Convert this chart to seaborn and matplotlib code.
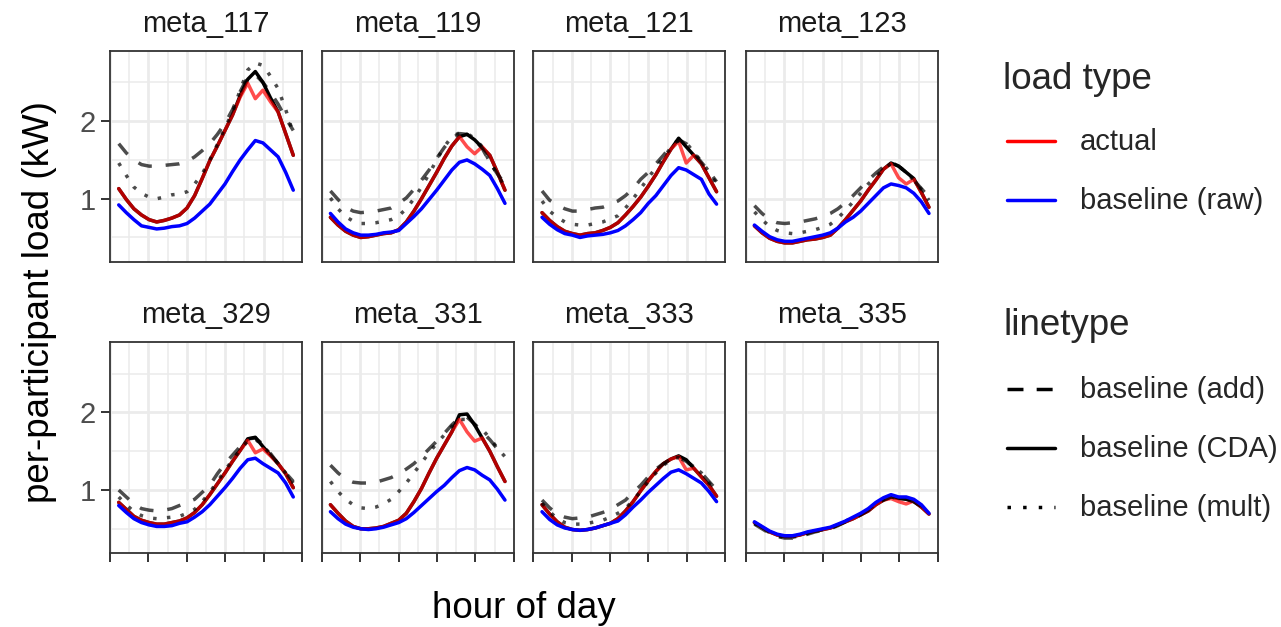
import matplotlib
matplotlib.use("Agg")
import numpy as np
import pandas as pd
import matplotlib.pyplot as plt
from matplotlib.lines import Line2D
from matplotlib.ticker import FixedLocator
import seaborn as sns

# ---- data ----
HOURS = list(range(24))
PANELS = ["meta_117", "meta_119", "meta_121", "meta_123",
          "meta_329", "meta_331", "meta_333", "meta_335"]

ACTUAL = {
    "meta_117": [1.13, 0.99, 0.87, 0.79, 0.73, 0.70, 0.72, 0.75, 0.79, 0.88, 1.04, 1.26,
                 1.49, 1.68, 1.88, 2.08, 2.31, 2.49, 2.29, 2.40, 2.25, 2.12, 1.84, 1.56],
    "meta_119": [0.76, 0.66, 0.58, 0.53, 0.50, 0.51, 0.53, 0.55, 0.56, 0.60, 0.70, 0.84,
                 1.00, 1.17, 1.34, 1.52, 1.68, 1.80, 1.67, 1.58, 1.67, 1.56, 1.34, 1.11],
    "meta_121": [0.82, 0.72, 0.64, 0.58, 0.55, 0.53, 0.55, 0.56, 0.59, 0.63, 0.69, 0.79,
                 0.90, 1.02, 1.16, 1.31, 1.48, 1.64, 1.74, 1.46, 1.56, 1.45, 1.27, 1.09],
    "meta_123": [0.65, 0.56, 0.49, 0.45, 0.43, 0.43, 0.45, 0.47, 0.48, 0.50, 0.53, 0.62,
                 0.73, 0.85, 0.97, 1.11, 1.24, 1.38, 1.45, 1.27, 1.19, 1.25, 1.08, 0.89],
    "meta_329": [0.84, 0.75, 0.66, 0.61, 0.58, 0.56, 0.56, 0.58, 0.60, 0.64, 0.71, 0.81,
                 0.94, 1.08, 1.22, 1.37, 1.51, 1.64, 1.48, 1.53, 1.44, 1.34, 1.21, 1.03],
    "meta_331": [0.81, 0.70, 0.60, 0.53, 0.50, 0.50, 0.51, 0.53, 0.57, 0.61, 0.70, 0.85,
                 1.02, 1.22, 1.41, 1.58, 1.75, 1.91, 1.75, 1.63, 1.67, 1.50, 1.30, 1.11],
    "meta_333": [0.81, 0.69, 0.59, 0.52, 0.49, 0.48, 0.49, 0.51, 0.54, 0.57, 0.63, 0.73,
                 0.85, 0.99, 1.12, 1.24, 1.34, 1.40, 1.43, 1.26, 1.28, 1.17, 1.06, 0.92],
    "meta_335": [0.58, 0.52, 0.46, 0.42, 0.40, 0.40, 0.42, 0.45, 0.47, 0.49, 0.51, 0.55,
                 0.59, 0.63, 0.68, 0.73, 0.81, 0.87, 0.89, 0.85, 0.82, 0.86, 0.78, 0.69],
}

CDA = {
    "meta_117": [1.13, 0.99, 0.87, 0.79, 0.73, 0.70, 0.72, 0.75, 0.79, 0.88, 1.04, 1.26,
                 1.49, 1.68, 1.88, 2.08, 2.33, 2.54, 2.64, 2.50, 2.30, 2.12, 1.84, 1.56],
    "meta_119": [0.76, 0.66, 0.58, 0.53, 0.50, 0.51, 0.53, 0.55, 0.56, 0.60, 0.70, 0.84,
                 1.00, 1.17, 1.34, 1.52, 1.68, 1.80, 1.83, 1.76, 1.66, 1.56, 1.34, 1.11],
    "meta_121": [0.82, 0.72, 0.64, 0.58, 0.55, 0.53, 0.55, 0.56, 0.59, 0.63, 0.69, 0.79,
                 0.90, 1.02, 1.16, 1.31, 1.48, 1.64, 1.78, 1.67, 1.56, 1.45, 1.27, 1.09],
    "meta_123": [0.65, 0.56, 0.49, 0.45, 0.43, 0.43, 0.45, 0.47, 0.48, 0.50, 0.53, 0.62,
                 0.73, 0.85, 0.97, 1.11, 1.24, 1.38, 1.46, 1.42, 1.34, 1.26, 1.08, 0.89],
    "meta_329": [0.84, 0.75, 0.66, 0.61, 0.58, 0.56, 0.56, 0.58, 0.60, 0.64, 0.71, 0.81,
                 0.94, 1.08, 1.22, 1.37, 1.51, 1.66, 1.68, 1.56, 1.45, 1.34, 1.21, 1.03],
    "meta_331": [0.81, 0.70, 0.60, 0.53, 0.50, 0.50, 0.51, 0.53, 0.57, 0.61, 0.70, 0.85,
                 1.02, 1.22, 1.41, 1.58, 1.75, 1.97, 1.98, 1.84, 1.67, 1.50, 1.30, 1.11],
    "meta_333": [0.81, 0.69, 0.59, 0.52, 0.49, 0.48, 0.49, 0.51, 0.54, 0.57, 0.63, 0.73,
                 0.85, 0.99, 1.12, 1.24, 1.34, 1.40, 1.44, 1.39, 1.28, 1.17, 1.06, 0.92],
    "meta_335": [0.58, 0.52, 0.46, 0.42, 0.40, 0.40, 0.42, 0.45, 0.47, 0.49, 0.51, 0.55,
                 0.59, 0.63, 0.68, 0.73, 0.81, 0.87, 0.91, 0.89, 0.88, 0.85, 0.78, 0.69],
}

RAW = {
    "meta_117": [0.92, 0.82, 0.73, 0.65, 0.63, 0.61, 0.62, 0.64, 0.65, 0.68, 0.75, 0.84,
                 0.93, 1.06, 1.19, 1.35, 1.50, 1.63, 1.75, 1.72, 1.63, 1.54, 1.34, 1.11],
    "meta_119": [0.81, 0.70, 0.61, 0.56, 0.53, 0.53, 0.54, 0.56, 0.57, 0.59, 0.68, 0.77,
                 0.87, 0.99, 1.11, 1.24, 1.37, 1.47, 1.50, 1.45, 1.38, 1.30, 1.13, 0.94],
    "meta_121": [0.76, 0.67, 0.60, 0.55, 0.53, 0.50, 0.52, 0.53, 0.54, 0.56, 0.59, 0.65,
                 0.73, 0.82, 0.94, 1.04, 1.17, 1.30, 1.40, 1.37, 1.31, 1.25, 1.06, 0.93],
    "meta_123": [0.66, 0.58, 0.51, 0.47, 0.45, 0.45, 0.47, 0.49, 0.51, 0.53, 0.56, 0.62,
                 0.70, 0.76, 0.84, 0.94, 1.04, 1.14, 1.19, 1.17, 1.14, 1.07, 0.96, 0.81],
    "meta_329": [0.80, 0.71, 0.63, 0.58, 0.55, 0.53, 0.53, 0.54, 0.57, 0.59, 0.65, 0.72,
                 0.81, 0.92, 1.03, 1.15, 1.28, 1.39, 1.41, 1.34, 1.28, 1.22, 1.09, 0.91],
    "meta_331": [0.72, 0.63, 0.56, 0.52, 0.50, 0.49, 0.50, 0.52, 0.55, 0.58, 0.63, 0.71,
                 0.80, 0.89, 0.98, 1.06, 1.16, 1.25, 1.29, 1.26, 1.19, 1.13, 1.01, 0.87],
    "meta_333": [0.72, 0.62, 0.55, 0.51, 0.49, 0.48, 0.49, 0.51, 0.54, 0.57, 0.60, 0.68,
                 0.78, 0.87, 0.97, 1.06, 1.15, 1.23, 1.26, 1.21, 1.15, 1.09, 0.98, 0.85],
    "meta_335": [0.59, 0.53, 0.47, 0.43, 0.41, 0.41, 0.43, 0.46, 0.48, 0.50, 0.52, 0.56,
                 0.60, 0.65, 0.70, 0.76, 0.84, 0.90, 0.94, 0.91, 0.91, 0.88, 0.81, 0.70],
}

ADD = {
    "meta_117": [1.71, 1.59, 1.50, 1.44, 1.42, 1.42, 1.43, 1.44, 1.45, 1.48, 1.54, 1.62,
                 1.71, 1.83, 1.97, 2.15, 2.38, 2.57, 2.60, 2.50, 2.37, 2.22, 2.04, 1.88],
    "meta_119": [1.10, 0.99, 0.89, 0.84, 0.82, 0.83, 0.84, 0.86, 0.88, 0.94, 1.01, 1.12,
                 1.24, 1.37, 1.52, 1.66, 1.78, 1.84, 1.83, 1.76, 1.65, 1.47, 1.32, 1.19],
    "meta_121": [1.10, 0.98, 0.92, 0.87, 0.84, 0.84, 0.86, 0.88, 0.89, 0.93, 0.97, 1.04,
                 1.13, 1.25, 1.34, 1.45, 1.56, 1.68, 1.76, 1.71, 1.59, 1.47, 1.35, 1.22],
    "meta_123": [0.91, 0.81, 0.73, 0.69, 0.68, 0.69, 0.70, 0.72, 0.74, 0.77, 0.81, 0.87,
                 0.95, 1.04, 1.14, 1.24, 1.33, 1.41, 1.47, 1.42, 1.34, 1.24, 1.13, 1.02],
    "meta_329": [1.00, 0.91, 0.82, 0.76, 0.74, 0.73, 0.74, 0.76, 0.80, 0.84, 0.88, 0.97,
                 1.06, 1.21, 1.34, 1.45, 1.56, 1.66, 1.67, 1.59, 1.47, 1.34, 1.22, 1.11],
    "meta_331": [1.32, 1.22, 1.14, 1.10, 1.09, 1.09, 1.10, 1.13, 1.16, 1.21, 1.27, 1.34,
                 1.43, 1.53, 1.63, 1.73, 1.84, 1.93, 1.94, 1.85, 1.75, 1.65, 1.53, 1.43],
    "meta_333": [0.87, 0.77, 0.69, 0.65, 0.63, 0.64, 0.65, 0.68, 0.71, 0.75, 0.81, 0.87,
                 0.97, 1.06, 1.17, 1.27, 1.34, 1.40, 1.42, 1.37, 1.30, 1.22, 1.11, 1.00],
    "meta_335": [0.56, 0.50, 0.44, 0.40, 0.38, 0.38, 0.40, 0.43, 0.46, 0.48, 0.50, 0.54,
                 0.59, 0.63, 0.68, 0.74, 0.81, 0.87, 0.91, 0.89, 0.88, 0.85, 0.79, 0.69],
}

MULT = {
    "meta_117": [1.46, 1.30, 1.15, 1.07, 1.02, 1.00, 1.02, 1.05, 1.06, 1.09, 1.19, 1.32,
                 1.50, 1.70, 1.91, 2.12, 2.40, 2.66, 2.75, 2.72, 2.58, 2.42, 2.15, 1.84],
    "meta_119": [1.01, 0.87, 0.77, 0.71, 0.68, 0.68, 0.69, 0.71, 0.73, 0.78, 0.87, 1.00,
                 1.15, 1.32, 1.50, 1.67, 1.80, 1.85, 1.84, 1.78, 1.67, 1.47, 1.32, 1.15],
    "meta_121": [0.97, 0.84, 0.76, 0.70, 0.67, 0.66, 0.66, 0.68, 0.70, 0.74, 0.78, 0.88,
                 1.00, 1.13, 1.27, 1.40, 1.53, 1.66, 1.75, 1.72, 1.60, 1.48, 1.35, 1.19],
    "meta_123": [0.83, 0.73, 0.64, 0.59, 0.56, 0.55, 0.56, 0.58, 0.60, 0.63, 0.67, 0.75,
                 0.85, 0.96, 1.07, 1.19, 1.28, 1.39, 1.45, 1.42, 1.34, 1.24, 1.12, 0.98],
    "meta_329": [0.91, 0.81, 0.72, 0.67, 0.64, 0.63, 0.64, 0.65, 0.66, 0.70, 0.75, 0.85,
                 0.97, 1.11, 1.25, 1.39, 1.52, 1.63, 1.66, 1.56, 1.47, 1.34, 1.22, 1.09],
    "meta_331": [1.11, 0.98, 0.88, 0.81, 0.77, 0.76, 0.78, 0.82, 0.88, 0.98, 1.09, 1.22,
                 1.35, 1.48, 1.60, 1.71, 1.82, 1.91, 1.91, 1.84, 1.78, 1.67, 1.54, 1.43],
    "meta_333": [0.83, 0.72, 0.63, 0.58, 0.56, 0.56, 0.57, 0.59, 0.61, 0.65, 0.70, 0.76,
                 0.87, 0.98, 1.11, 1.22, 1.32, 1.39, 1.42, 1.37, 1.30, 1.22, 1.09, 0.98],
    "meta_335": [0.57, 0.51, 0.45, 0.41, 0.39, 0.39, 0.41, 0.44, 0.47, 0.49, 0.51, 0.55,
                 0.60, 0.64, 0.69, 0.75, 0.82, 0.88, 0.92, 0.90, 0.89, 0.86, 0.80, 0.70],
}

# draw order: CDA first, then actual on top of it, then add/mult, raw last
SERIES = [
    ("baseline (CDA)", CDA, "black", 1.0, "-"),
    ("actual", ACTUAL, "red", 0.7, "-"),
    ("baseline (add)", ADD, "black", 0.7, (0, (4, 4))),
    ("baseline (mult)", MULT, "black", 0.7, (0, (1, 3))),
    ("baseline (raw)", RAW, "blue", 1.0, "-"),
]

rows = []
for name, table, *_ in SERIES:
    for panel in PANELS:
        for h, v in zip(HOURS, table[panel]):
            rows.append({"panel": panel, "series": name, "hour": h, "load": v})
df = pd.DataFrame(rows)

sns.set_theme(style="white")
plt.rcParams["font.family"] = ["Liberation Sans", "DejaVu Sans"]

W, H = 1281, 627
fig = plt.figure(figsize=(W / 100, H / 100), dpi=100)


def fx(px):
    return px / W


def fy(py):
    return 1 - py / H


LW = 2.5
XMIN, XMAX = -1.15, 24.15
YMIN, YMAX = 0.19, 2.905
xmaj = np.linspace(XMIN, XMAX, 6)
xmin_ = (xmaj[:-1] + xmaj[1:]) / 2

col_left = [110, 321.7, 533.3, 745.7]
row_top = [51, 342.3]
pw, ph = 192, 210.5

for i, panel in enumerate(PANELS):
    r, c = divmod(i, 4)
    ax = fig.add_axes([fx(col_left[c]), fy(row_top[r] + ph), pw / W, ph / H])
    sub = df[df["panel"] == panel]
    for name, _, color, alpha, ls in SERIES:
        d = sub[sub["series"] == name]
        sns.lineplot(data=d, x="hour", y="load", ax=ax, color=color, alpha=alpha,
                     linestyle=ls, lw=LW, errorbar=None, legend=False,
                     solid_joinstyle="round", dash_capstyle="butt")
    ax.set_xlim(XMIN, XMAX)
    ax.set_ylim(YMIN, YMAX)
    ax.xaxis.set_major_locator(FixedLocator(xmaj))
    ax.xaxis.set_minor_locator(FixedLocator(xmin_))
    ax.yaxis.set_major_locator(FixedLocator([1, 2]))
    ax.yaxis.set_minor_locator(FixedLocator([0.5, 1.5, 2.5]))
    ax.set_axisbelow(True)
    ax.grid(which="major", color="#ebebeb", lw=2.0)
    ax.grid(which="minor", color="#ebebeb", lw=1.1)
    for s in ax.spines.values():
        s.set_color("#333333")
        s.set_linewidth(1.3)
    ax.set_xlabel("")
    ax.set_ylabel("")
    ax.tick_params(which="minor", length=0)
    ax.tick_params(which="major", direction="out", length=6.5, width=1.4,
                   color="#333333", labelsize=21, labelcolor="#4d4d4d", pad=4,
                   bottom=(r == 1), left=(c == 0),
                   labelbottom=False, labelleft=(c == 0))
    if c == 0:
        ax.set_yticklabels(["1", "2"])
    ax.text(0.5, 1 + 19 / ph, panel, transform=ax.transAxes, ha="center",
            va="baseline", fontsize=21, color="#1a1a1a")

fig.text(fx(40), fy(302), "per-participant load (kW)", rotation=90,
         ha="center", va="center", fontsize=26.5, color="black")
fig.text(fx(524), fy(618), "hour of day", ha="center", va="baseline",
         fontsize=26.5, color="black")

# legends drawn by hand in figure space
fig.text(fx(1003), fy(89), "load type", ha="left", va="baseline", fontsize=26.5)
fig.text(fx(1003), fy(335), "linetype", ha="left", va="baseline", fontsize=26.5)
legend_items = [
    ("actual", "red", "-", 141),
    ("baseline (raw)", "blue", "-", 200),
    ("baseline (add)", "black", (0, (4.6, 3.8)), 389),
    ("baseline (CDA)", "black", "-", 448),
    ("baseline (mult)", "black", (0, (1, 3.5)), 507),
]
for label, color, ls, y in legend_items:
    fig.add_artist(Line2D([fx(1007), fx(1055)], [fy(y), fy(y)], color=color,
                          lw=LW, linestyle=ls, transform=fig.transFigure,
                          dash_capstyle="butt"))
    fig.text(fx(1080), fy(y + 1), label, ha="left", va="center", fontsize=21)

fig.savefig("out.png", dpi=100)
